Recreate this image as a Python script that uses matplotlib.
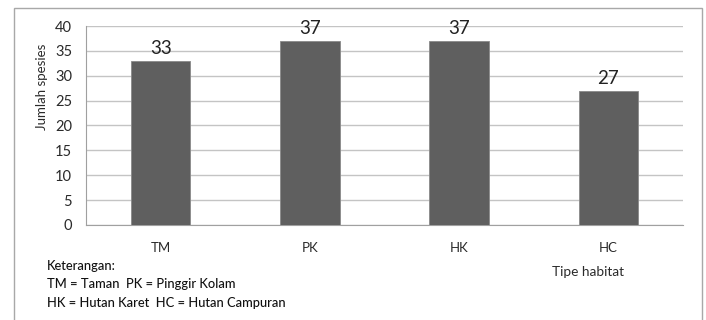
import matplotlib
matplotlib.use("Agg")
import matplotlib.pyplot as plt
from matplotlib.patches import Rectangle

categories = ["TM", "PK", "HK", "HC"]
values = [33, 37, 37, 27]
yticks = [0, 5, 10, 15, 20, 25, 30, 35, 40]

plt.rcParams['font.family'] = ['Lato', 'DejaVu Sans']

W, H = 706, 320
fig = plt.figure(figsize=(W/100, H/100), dpi=100)
fig.patch.set_facecolor('white')

# outer frame
fig.patches.append(Rectangle((14/W, -0.02), (702-14)/W, (320-8)/H + 0.02,
                             transform=fig.transFigure, fill=False,
                             edgecolor='#a8a8a8', linewidth=1.0))

ax = fig.add_axes([86/W, (320-225)/H, (683-86)/W, (225-26)/H])
ax.set_facecolor('white')
x = range(len(categories))
ax.bar(x, values, width=0.4, color='#5f5f5f', edgecolor='#8a8a8a', linewidth=0.6, zorder=3)
ax.set_xlim(-0.5, len(categories) - 0.5)
ax.set_ylim(0, 40)
ax.set_yticks(yticks)
ax.set_yticklabels([str(t) for t in yticks], fontsize=10.5, color='#2a2a2a')
ax.set_xticks(list(x))
ax.set_xticklabels(categories, fontsize=9.5, color='#2a2a2a')
ax.tick_params(axis='both', length=0)
ax.tick_params(axis='y', pad=10)
ax.tick_params(axis='x', pad=12)
ax.grid(axis='y', color='#c4c4c4', linewidth=1.0, zorder=0)
for s in ['top', 'right']:
    ax.spines[s].set_visible(False)
ax.spines['left'].set_color('#a0a0a0')
ax.spines['bottom'].set_color('#a0a0a0')

for xi, v in zip(x, values):
    ax.annotate(str(v), (xi, v), xytext=(0, 3), textcoords='offset points',
                ha='center', va='bottom', fontsize=13.5, color='#222222')

fig.text(42/W, 1 - 87/H, "Jumlah spesies", rotation=90, ha='center', va='center',
         fontsize=9.5, color='#2a2a2a')
fig.text(588/W, 1 - 272/H, "Tipe habitat", ha='center', va='center', fontsize=9.8, color='#2a2a2a')
kw = dict(ha='left', va='center', fontsize=9.3, color='#111111', fontweight='medium')
fig.text(47/W, 1 - 266/H, "Keterangan:", **kw)
fig.text(47/W, 1 - 284/H, "TM = Taman  PK = Pinggir Kolam", **kw)
fig.text(47/W, 1 - 303/H, "HK = Hutan Karet  HC = Hutan Campuran", **kw)

fig.savefig("out.png", dpi=100)
